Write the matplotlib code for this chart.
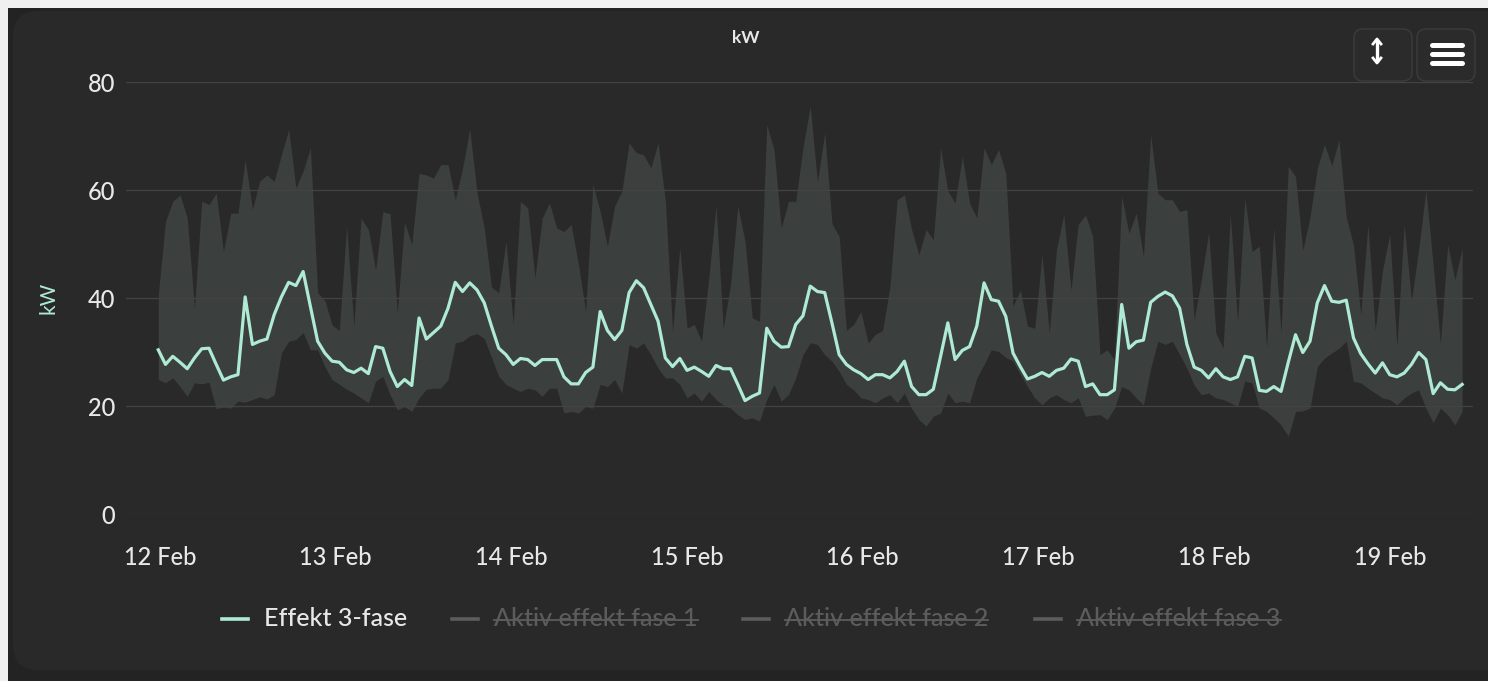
import numpy as np
import pandas as pd
import matplotlib
matplotlib.use("Agg")
import matplotlib.pyplot as plt
import matplotlib.dates as mdates
from matplotlib.patches import FancyBboxPatch, Rectangle
from matplotlib.lines import Line2D

plt.rcParams['font.family'] = ['Lato', 'DejaVu Sans']

# readings, roughly hourly, first one just before 12 Feb 00:00
effekt = [
    30.4, 27.7, 29.2, 28.1, 26.9, 28.9, 30.6, 30.7, 27.7, 24.8,
    25.4, 25.8, 40.2, 31.4, 32.0, 32.4, 36.9, 40.2, 42.9, 42.3,
    44.9, 38.5, 32.0, 29.8, 28.3, 28.1, 26.7, 26.2, 27.0, 26.0,
    31.0, 30.7, 26.4, 23.6, 24.9, 23.8, 36.3, 32.4, 33.6, 34.8,
    38.1, 42.9, 41.2, 42.8, 41.5, 39.1, 34.8, 30.7, 29.5, 27.7,
    28.8, 28.6, 27.5, 28.6, 28.6, 28.6, 25.4, 24.1, 24.1, 26.2,
    27.2, 37.5, 34.0, 32.3, 34.0, 41.0, 43.2, 41.9, 38.8, 35.7,
    28.9, 27.3, 28.8, 26.6, 27.2, 26.4, 25.5, 27.5, 26.9, 26.9,
    24.0, 21.0, 21.8, 22.4, 34.4, 32.0, 30.9, 31.0, 35.1, 36.7,
    42.2, 41.2, 41.0, 35.4, 29.5, 27.7, 26.7, 26.0, 24.9, 25.8,
    25.8, 25.2, 26.4, 28.3, 23.6, 22.1, 22.1, 23.1, 29.2, 35.4,
    28.6, 30.3, 31.0, 34.8, 42.8, 39.7, 39.4, 36.6, 29.8, 27.3,
    25.0, 25.5, 26.2, 25.5, 26.6, 27.0, 28.7, 28.3, 23.6, 24.1,
    22.1, 22.1, 23.0, 38.8, 30.7, 31.9, 32.2, 39.2, 40.3, 41.1,
    40.4, 38.1, 31.4, 27.2, 26.6, 25.2, 26.9, 25.4, 24.9, 25.4,
    29.2, 28.9, 22.9, 22.7, 23.6, 22.7, 28.1, 33.2, 29.9, 32.0,
    39.1, 42.3, 39.4, 39.2, 39.6, 32.6, 29.7, 27.8, 26.1, 28.0,
    25.8, 25.4, 26.1, 27.7, 29.9, 28.6, 22.3, 24.3, 23.1, 23.0, 24.0,
]

fase_max = [
    40.6, 54.2, 57.9, 59.1, 54.8, 38.1, 57.9, 57.3, 59.4, 48.6,
    55.7, 55.7, 65.6, 56.4, 61.6, 62.8, 61.6, 66.5, 71.2, 60.4,
    63.5, 67.8, 41.0, 39.5, 35.0, 34.0, 53.3, 34.8, 54.8, 52.7,
    45.2, 56.0, 55.6, 37.2, 54.0, 49.9, 63.1, 62.8, 62.2, 64.7,
    64.7, 58.2, 64.0, 71.3, 59.5, 53.0, 42.0, 41.0, 50.5, 35.1,
    57.9, 56.7, 43.7, 54.8, 57.6, 53.0, 52.3, 53.6, 46.2, 37.5,
    61.0, 56.0, 49.6, 57.0, 59.8, 68.7, 66.9, 66.5, 64.1, 68.7,
    58.0, 33.8, 49.3, 34.4, 35.1, 32.0, 43.7, 57.0, 34.4, 42.5,
    57.0, 50.5, 36.3, 35.7, 72.1, 67.5, 53.0, 57.9, 57.9, 67.8,
    75.5, 61.5, 70.6, 53.8, 51.4, 34.0, 35.1, 37.5, 31.7, 33.3,
    34.0, 42.0, 58.2, 59.1, 52.7, 48.0, 52.7, 50.8, 67.8, 59.8,
    57.6, 66.2, 57.6, 54.8, 67.8, 64.7, 67.5, 63.1, 38.5, 41.5,
    34.8, 34.4, 48.0, 33.5, 49.0, 55.4, 41.5, 53.6, 55.4, 51.4,
    29.5, 30.4, 28.6, 58.8, 52.0, 55.7, 47.7, 70.2, 59.4, 58.2,
    58.2, 56.0, 56.4, 36.0, 43.4, 52.2, 33.5, 30.7, 55.5, 35.5,
    58.5, 48.6, 49.6, 31.0, 53.0, 33.5, 64.4, 62.5, 48.8, 55.0,
    64.0, 68.4, 64.5, 69.3, 55.0, 49.8, 36.9, 53.6, 34.0, 45.0,
    51.8, 31.0, 53.6, 39.5, 49.0, 60.0, 46.0, 31.5, 49.9, 43.4, 49.2,
]

fase_min = [
    24.9, 24.3, 25.2, 23.6, 21.8, 24.3, 24.1, 24.4, 19.5, 19.8,
    19.6, 20.9, 20.7, 21.2, 21.7, 21.3, 22.1, 29.8, 32.0, 32.3,
    33.6, 30.4, 30.4, 27.3, 24.9, 24.0, 23.1, 22.4, 21.5, 20.6,
    24.6, 25.5, 22.1, 19.3, 19.9, 19.0, 21.5, 23.1, 23.3, 23.3,
    24.9, 31.7, 32.0, 33.0, 33.4, 32.5, 29.0, 25.5, 24.0, 23.3,
    22.7, 23.3, 23.0, 21.8, 23.3, 23.3, 18.7, 19.0, 18.7, 19.9,
    19.6, 24.0, 23.6, 24.9, 22.4, 31.4, 30.7, 31.7, 29.5, 27.0,
    25.2, 25.2, 24.0, 21.5, 22.4, 20.9, 22.7, 21.2, 20.2, 19.6,
    18.4, 17.5, 17.8, 17.2, 21.2, 24.0, 20.9, 22.1, 25.2, 29.5,
    31.7, 31.4, 29.5, 28.3, 26.4, 24.0, 23.0, 21.5, 21.2, 20.6,
    21.5, 22.1, 20.6, 22.4, 19.6, 17.5, 16.3, 18.1, 18.7, 22.4,
    20.6, 20.9, 20.6, 25.2, 27.7, 30.4, 30.1, 29.0, 28.3, 25.8,
    23.6, 21.5, 20.2, 21.5, 22.1, 21.2, 20.6, 21.5, 18.1, 18.3,
    18.4, 17.5, 19.6, 23.6, 23.0, 21.5, 20.2, 27.0, 32.0, 31.4,
    32.0, 29.5, 27.0, 23.9, 22.1, 22.4, 21.5, 21.2, 20.6, 19.9,
    24.6, 24.3, 19.6, 19.0, 17.8, 16.5, 14.4, 19.0, 19.1, 19.6,
    27.3, 28.9, 29.8, 30.7, 32.0, 24.6, 24.3, 23.3, 22.4, 21.5,
    21.2, 20.2, 21.5, 22.4, 23.0, 19.6, 16.9, 19.6, 18.4, 16.5, 19.0,
]

y_ticks = [0, 20, 40, 60, 80]
legend_labels = ["Effekt 3-fase", "Aktiv effekt fase 1", "Aktiv effekt fase 2", "Aktiv effekt fase 3"]

W, H = 1488, 681
MINT = "#aeead4"
TXT = "#e8e8e8"
HIDDEN = "#5c5c5c"

times = pd.date_range("2025-02-11 23:46", periods=len(effekt), freq="59min 22s")

fig = plt.figure(figsize=(W / 100, H / 100), dpi=100)
fig.patch.set_facecolor("#232323")

# background: page strip, rounded card, buttons (pixel coords)
bg = fig.add_axes([0, 0, 1, 1], zorder=0)
bg.set_xlim(0, W)
bg.set_ylim(H, 0)
bg.axis("off")
bg.add_patch(Rectangle((0, 0), W, 8, color="#f0f0f0", lw=0))
bg.add_patch(Rectangle((0, 0), 8, H, color="#f0f0f0", lw=0))
bg.add_patch(FancyBboxPatch((13 + 25, 11 + 25), W + 40, 659 - 50,
                            boxstyle="round,pad=25", fc="#292929", ec="none"))
for x0 in (1354, 1417):
    bg.add_patch(FancyBboxPatch((x0 + 9, 29 + 9), 58 - 18, 52 - 18,
                                boxstyle="round,pad=9", fc="#2b2b2c", ec="#3c3c3c", lw=1))
# vertical arrow icon
bg.plot([1377, 1377], [40, 62], color="white", lw=2.4, solid_capstyle="butt")
bg.plot([1373, 1377, 1381], [44, 39, 44], color="white", lw=2.0)
bg.plot([1373, 1377, 1381], [58, 63, 58], color="white", lw=2.0)
# hamburger icon
for yy in (45, 54, 63):
    bg.plot([1432, 1462], [yy, yy], color="white", lw=3.6, solid_capstyle="round")

# main plot area
ax = fig.add_axes([126 / W, 1 - 514 / H, (1473 - 126) / W, (514 - 82) / H], zorder=1)
ax.set_facecolor("none")
ax.fill_between(times, fase_min, fase_max, color="#646e6a", alpha=0.32, lw=0, zorder=1)
ax.plot(times, effekt, color=MINT, lw=2.3, zorder=3, solid_joinstyle="round")

day0 = pd.Timestamp("2025-02-12 00:00")
ax.set_xlim(day0 - pd.Timedelta(hours=4.64), day0 + pd.Timedelta(hours=179.35))
ax.set_ylim(0, 80)
ax.set_yticks(y_ticks)
ax.yaxis.grid(True, color="#434343", lw=0.9, zorder=2)
ax.xaxis.set_major_locator(mdates.DayLocator())
ax.xaxis.set_major_formatter(mdates.DateFormatter("%d %b"))
for s in ax.spines.values():
    s.set_visible(False)
ax.tick_params(axis="y", length=0, pad=8, labelsize=17, labelcolor=TXT)
ax.tick_params(axis="x", length=0, pad=23, labelsize=17, labelcolor=TXT)
for lbl in ax.get_xticklabels() + ax.get_yticklabels():
    lbl.set_fontweight("medium")
ax.set_ylabel("kW", color=MINT, fontsize=15)
ax.yaxis.set_label_coords((59 - 126) / (1473 - 126), 0.5)

fig.text(746 / W, 1 - 38 / H, "kW", ha="center", va="center", fontsize=12.5,
         fontweight="bold", color=TXT)

# legend (hidden series are struck through)
leg_x = [222, 452, 743, 1035]
leg_y = 1 - 619 / H
fig.canvas.draw()
renderer = fig.canvas.get_renderer()
for i, (lx, lab) in enumerate(zip(leg_x, legend_labels)):
    col = MINT if i == 0 else HIDDEN
    tcol = TXT if i == 0 else HIDDEN
    fig.add_artist(Line2D([lx / W, (lx + 26) / W], [leg_y, leg_y], color=col, lw=2.6,
                          transform=fig.transFigure))
    t = fig.text((lx + 42) / W, leg_y, lab, ha="left", va="center", fontsize=18,
                 fontweight="medium", color=tcol)
    if i > 0:
        bb = t.get_window_extent(renderer)
        ym = (bb.y0 + bb.height * 0.47) / H
        fig.add_artist(Line2D([bb.x0 / W, bb.x1 / W], [ym, ym], color=HIDDEN, lw=1.3,
                              transform=fig.transFigure))

fig.savefig("out.png", dpi=100, facecolor=fig.get_facecolor())
